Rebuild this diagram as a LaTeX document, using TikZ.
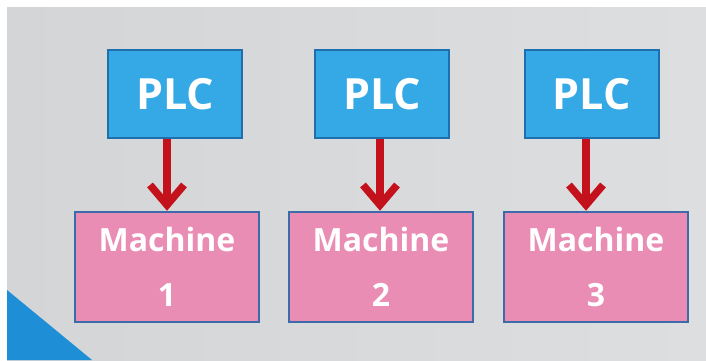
\documentclass[tikz,border=0pt]{standalone}
\usepackage{fontspec}
\setmainfont{Open Sans}
\usetikzlibrary{arrows.meta}
\definecolor{bggray}{HTML}{D4D5D7}
\definecolor{bglight}{HTML}{DDDEE0}
\definecolor{plcfill}{HTML}{35A8E6}
\definecolor{plcedge}{HTML}{1F6FAE}
\definecolor{machfill}{HTML}{EA8DB5}
\definecolor{machedge}{HTML}{3D6AA8}
\definecolor{arrowred}{HTML}{C3121C}
\definecolor{cornerblue}{HTML}{1E8ED6}
\tikzset{
  plcbox/.style={draw=plcedge, fill=plcfill, line width=2pt, minimum width=134pt,
    minimum height=88pt, inner sep=0pt, text=white, font=\fontsize{43}{43}\selectfont\bfseries},
  machbox/.style={draw=machedge, fill=machfill, line width=2.5pt, minimum width=184pt,
    minimum height=110pt, inner sep=0pt, text=white, align=center,
    font=\fontsize{32}{55}\selectfont\bfseries},
  feed/.style={draw=arrowred, line width=7.5pt,
    -{Straight Barb[length=20pt, width=34pt, line width=7.5pt]}}
}
\begin{document}
\begin{tikzpicture}[x=1pt, y=-1pt]
  \useasboundingbox (0,0) rectangle (706,360);
  % page background with a white edge at the top and left
  \fill[white] (0,0) rectangle (706,360);
  \shade[left color=bggray, right color=bglight] (7,7) rectangle (706,360);
  % blue corner accent
  \fill[cornerblue] (7,290) -- (92,360) -- (7,360) -- cycle;

  % controllers
  \node[plcbox] (p1) at (175,94) {PLC};
  \node[plcbox] (p2) at (382,94) {PLC};
  \node[plcbox] (p3) at (591.5,94) {PLC};

  % machines
  \node[machbox] (m1) at (167,267) {Machine\\1};
  \node[machbox] (m2) at (381,267) {Machine\\2};
  \node[machbox] (m3) at (596,267) {Machine\\3};

  % control links
  \draw[feed] ([xshift=-8pt]p1.south) -- ([xshift=-8pt]p1.south |- m1.north);
  \draw[feed] ([xshift=-2pt]p2.south) -- ([xshift=-2pt]p2.south |- m2.north);
  \draw[feed] ([xshift=-5.5pt]p3.south) -- ([xshift=-5.5pt]p3.south |- m3.north);
\end{tikzpicture}
\end{document}
